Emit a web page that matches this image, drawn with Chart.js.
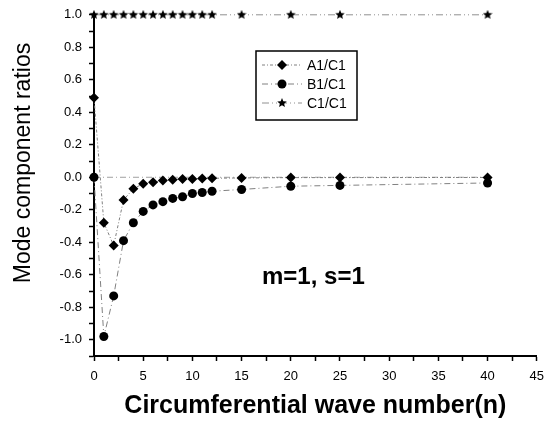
<!DOCTYPE html>
<html>
<head>
<meta charset="utf-8">
<script src="https://cdn.jsdelivr.net/npm/chart.js@4/dist/chart.umd.min.js"></script>
<style>
  html, body { margin: 0; padding: 0; background: #fff; }
  #wrap { width: 552px; height: 423px; position: relative; }
</style>
</head>
<body>
<div id="wrap"><canvas id="chart"></canvas></div>
<script>
// --- data ---
const waveNumbers = [0, 1, 2, 3, 4, 5, 6, 7, 8, 9, 10, 11, 12, 15, 20, 25, 40];
const a1c1 = [0.49, -0.28, -0.42, -0.14, -0.07, -0.04, -0.03, -0.02, -0.015, -0.01, -0.01, -0.008, -0.006, -0.004, -0.002, -0.002, -0.001];
const b1c1 = [0, -0.98, -0.73, -0.39, -0.28, -0.21, -0.17, -0.15, -0.13, -0.12, -0.10, -0.094, -0.086, -0.075, -0.055, -0.05, -0.035];
const c1c1 = [1, 1, 1, 1, 1, 1, 1, 1, 1, 1, 1, 1, 1, 1, 1, 1, 1];
const zeroLineX = [0, 40];
const zeroLineY = [0, 0];
const seriesNames = ['A1/C1', 'B1/C1', 'C1/C1'];
const xTitle = 'Circumferential wave number(n)';
const yTitle = 'Mode component ratios';
const note = 'm=1, s=1';

const FONT = '"Liberation Sans", Arial, sans-serif';

// small filled star used as point style
function makeStar(size) {
    const c = document.createElement('canvas');
    c.width = size; c.height = size;
    const g = c.getContext('2d');
    const cx = size / 2, cy = size / 2, R = size / 2, r = R * 0.45;
    g.beginPath();
    for (let i = 0; i < 10; i++) {
        const ang = -Math.PI / 2 + i * Math.PI / 5;
        const rr = i % 2 === 0 ? R : r;
        g.lineTo(cx + rr * Math.cos(ang), cy + rr * Math.sin(ang));
    }
    g.closePath();
    g.fillStyle = '#000';
    g.fill();
    return c;
}
const starImg = makeStar(10);

const pts = (xs, ys) => xs.map((x, i) => ({ x: x, y: ys[i] }));

const datasets = [
    {
        label: seriesNames[0],
        data: pts(waveNumbers, a1c1),
        borderColor: '#808080',
        borderWidth: 1,
        borderDash: [3, 2, 1, 2],
        pointStyle: 'rectRot',
        pointRadius: 5,
        pointBackgroundColor: '#000',
        pointBorderColor: '#000',
        pointBorderWidth: 0
    },
    {
        label: seriesNames[1],
        data: pts(waveNumbers, b1c1),
        borderColor: '#808080',
        borderWidth: 1,
        borderDash: [6, 3, 1, 3],
        pointStyle: 'circle',
        pointRadius: 4.5,
        pointBackgroundColor: '#000',
        pointBorderColor: '#000',
        pointBorderWidth: 0
    },
    {
        label: seriesNames[2],
        data: pts(waveNumbers, c1c1),
        borderColor: '#909090',
        borderWidth: 1,
        borderDash: [7, 3, 1, 3, 1, 3],
        pointStyle: starImg,
        pointRadius: 5,
        pointBackgroundColor: '#000',
        pointBorderColor: '#000'
    },
    {
        label: 'zero',
        data: pts(zeroLineX, zeroLineY),
        borderColor: '#a0a0a0',
        borderWidth: 1,
        borderDash: [6, 3, 1, 3],
        pointRadius: 0
    }
];

// legend box, note and y title drawn on top of the plot
const boxLegend = {
    id: 'boxLegend',
    afterDraw(chart) {
        const ctx = chart.ctx;
        ctx.save();
        // box
        ctx.strokeStyle = '#000';
        ctx.lineWidth = 1.5;
        ctx.fillStyle = '#fff';
        ctx.fillRect(256, 51, 101, 69);
        ctx.strokeRect(256, 51, 101, 69);
        const rows = [65, 84, 103];
        chart.data.datasets.slice(0, 3).forEach((ds, i) => {
            const y = rows[i];
            ctx.strokeStyle = ds.borderColor;
            ctx.lineWidth = 1;
            ctx.setLineDash(ds.borderDash);
            ctx.beginPath();
            ctx.moveTo(262, y);
            ctx.lineTo(302, y);
            ctx.stroke();
            ctx.setLineDash([]);
            ctx.fillStyle = '#000';
            ctx.strokeStyle = '#000';
            Chart.helpers.drawPoint(ctx, {
                pointStyle: ds.pointStyle,
                radius: ds.pointRadius,
                rotation: 0,
                borderWidth: 0
            }, 282, y);
            ctx.fillStyle = '#000';
            ctx.font = '14px ' + FONT;
            ctx.textBaseline = 'middle';
            ctx.textAlign = 'left';
            ctx.fillText(ds.label, 307, y + 1);
        });
        // annotation
        ctx.font = 'bold 24px ' + FONT;
        ctx.fillStyle = '#000';
        ctx.textBaseline = 'alphabetic';
        ctx.fillText(note, 262, 284);
        // y axis title
        ctx.translate(24, 163);
        ctx.rotate(-Math.PI / 2);
        ctx.font = '23px ' + FONT;
        ctx.textAlign = 'center';
        ctx.textBaseline = 'middle';
        ctx.fillText(yTitle, 0, 0);
        ctx.restore();
    }
};

new Chart(document.getElementById('chart'), {
    type: 'line',
    data: { datasets: datasets },
    options: {
        responsive: true,
        maintainAspectRatio: false,
        animation: false,
        events: [],
        clip: false,
        layout: { padding: { top: 14, right: 15, left: 0, bottom: 0 } },
        plugins: {
            legend: { display: false },
            tooltip: { enabled: false }
        },
        scales: {
            x: {
                type: 'linear',
                min: 0,
                max: 45,
                afterFit: s => { s.height = 67; },
                border: { color: '#000', width: 2 },
                grid: { drawOnChartArea: false, tickLength: 5, color: '#000', tickWidth: 1.5 },
                ticks: {
                    stepSize: 2.5,
                    autoSkip: false,
                    maxRotation: 0,
                    padding: 8,
                    color: '#000',
                    font: { family: FONT, size: 13 },
                    callback: v => (v % 5 === 0 ? String(v) : '')
                },
                title: {
                    display: true,
                    text: xTitle,
                    color: '#000',
                    font: { family: FONT, size: 25, weight: 'bold' },
                    padding: { top: 0, bottom: 2 }
                }
            },
            y: {
                type: 'linear',
                min: -1.1,
                max: 1.0,
                afterFit: s => { s.width = 94; },
                border: { color: '#000', width: 2 },
                grid: { drawOnChartArea: false, tickLength: 5, color: '#000', tickWidth: 1.5 },
                ticks: {
                    stepSize: 0.1,
                    autoSkip: false,
                    padding: 7,
                    color: '#000',
                    font: { family: FONT, size: 13 },
                    callback: v => {
                        const k = Math.round(v * 10);
                        if (k % 2 !== 0) return '';
                        return (k / 10).toFixed(1);
                    }
                }
            }
        }
    },
    plugins: [boxLegend]
});
</script>
</body>
</html>
